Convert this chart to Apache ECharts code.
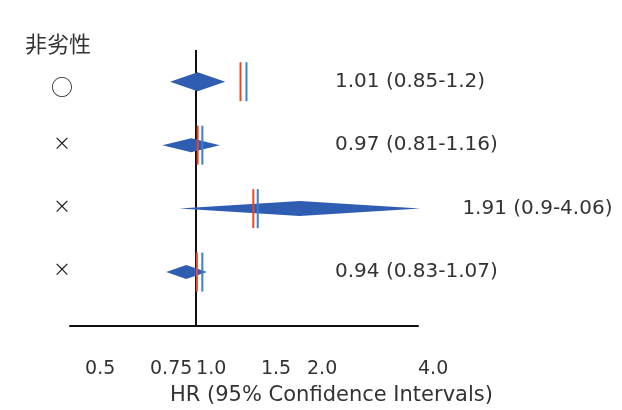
<!DOCTYPE html>
<html>
<head>
<meta charset="utf-8">
<script src="https://cdn.jsdelivr.net/npm/echarts@6/dist/echarts.min.js"></script>
<style>html,body{margin:0;padding:0;background:#fff;}#c{width:622px;height:410px;}</style>
</head>
<body>
<div id="c"></div>
<script>
// ---- data ----
const header = '非劣性';
const rowLabels = ['○', '×', '×', '×'];
const hr = [1.01, 0.97, 1.91, 0.94];
const lower = [0.85, 0.81, 0.9, 0.83];
const upper = [1.2, 1.16, 4.06, 1.07];
const redMarks = [1.32, 1.01, 1.43, 1.005];
const blueMarks = [1.37, 1.04, 1.47, 1.04];
const xTicks = [0.5, 0.75, 1.0, 1.5, 2.0, 4.0];
const xTickLabels = ['0.5', '0.75', '1.0', '1.5', '2.0', '4.0'];
const xName = 'HR (95% Confidence Intervals)';

const CJK = '"Noto Sans CJK JP", "Noto Sans", sans-serif';
const LAT = '"DejaVu Sans", sans-serif';
const TEXT_COL_X = 335;
const rows = hr.map((v, i) => i + 1);

const diamondData = hr.map((v, i) => [lower[i], v, upper[i], rows[i]]);
const halfH = [9.5, 7, 7.5, 7];

const chart = echarts.init(document.getElementById('c'), null, {renderer: 'canvas'});
chart.setOption({
  animation: false,
  backgroundColor: '#fff',
  title: [
    {text: header, left: 20, top: 28, textStyle: {fontFamily: CJK, fontSize: 22, fontWeight: 'normal', color: '#333'}},
    {text: xName, left: 165, top: 380, textStyle: {fontFamily: LAT, fontSize: 21, fontWeight: 'normal', color: '#333'}}
  ],
  grid: {left: 70, right: 204, top: 50, bottom: 84},
  xAxis: {
    type: 'log',
    logBase: 10,
    min: 0.455,
    max: 4.0,
    axisLine: {show: true, lineStyle: {color: '#111', width: 2}},
    axisTick: {show: false},
    splitLine: {show: false},
    axisLabel: {
      customValues: xTicks,
      margin: 34,
      align: 'left',
      fontFamily: LAT, fontSize: 19, color: '#333',
      formatter: function (v) {
        const idx = xTicks.findIndex(t => Math.abs(t - v) < 1e-6);
        return idx >= 0 ? xTickLabels[idx] : '';
      }
    }
  },
  yAxis: {
    type: 'value',
    inverse: true,
    min: 0.5,
    max: 4.85,
    axisLine: {show: false},
    axisTick: {show: false},
    splitLine: {show: false},
    axisLabel: {
      customValues: rows,
      margin: 8,
      align: 'center',
      fontFamily: CJK, color: '#222',
      formatter: function (v) {
        const s = rowLabels[Math.round(v) - 1] || '';
        return s === '○' ? '{c|' + s + '}' : '{x|' + s + '}';
      },
      rich: {
        c: {fontFamily: CJK, fontSize: 22, color: '#222', padding: [9, 0, 0, 0]},
        x: {fontFamily: CJK, fontSize: 18, color: '#222', padding: [0, 0, 5, 0]}
      }
    }
  },
  series: [
    {
      type: 'custom',
      clip: false,
      z: 3,
      data: diamondData,
      renderItem: function (params, api) {
        const lo = api.value(0), est = api.value(1), hi = api.value(2), row = api.value(3);
        const pl = api.coord([lo, row]);
        const pc = api.coord([est, row]);
        const pr = api.coord([hi, row]);
        const h = halfH[params.dataIndex];
        const i = params.dataIndex;
        const txt = hr[i].toFixed(2) + ' (' + lower[i] + '-' + upper[i] + ')';
        const tx = Math.max(TEXT_COL_X, pr[0] + 42);
        return {
          type: 'group',
          children: [
            {
              type: 'polygon',
              shape: {points: [pl, [pc[0], pc[1] - h], pr, [pc[0], pc[1] + h]]},
              style: {fill: '#2f5db2'}
            },
            {
              type: 'text',
              x: tx, y: pc[1],
              style: {text: txt, fill: '#333', font: '20px ' + LAT, textAlign: 'left', textVerticalAlign: 'middle'}
            }
          ]
        };
      },
      markLine: {
        silent: true,
        symbol: 'none',
        label: {show: false},
        lineStyle: {color: '#111', width: 2, type: 'solid'},
        data: [{xAxis: 1.0}],
        z: 2
      }
    },
    {
      type: 'scatter',
      symbol: 'rect',
      symbolSize: [2, 39],
      z: 5,
      itemStyle: {color: '#e8482a', opacity: 1},
      data: redMarks.map((v, i) => [v, rows[i]])
    },
    {
      type: 'scatter',
      symbol: 'rect',
      symbolSize: [2, 39],
      z: 5,
      itemStyle: {color: '#3a7ed6', opacity: 1},
      data: blueMarks.map((v, i) => [v, rows[i]])
    }
  ]
});
</script>
</body>
</html>
